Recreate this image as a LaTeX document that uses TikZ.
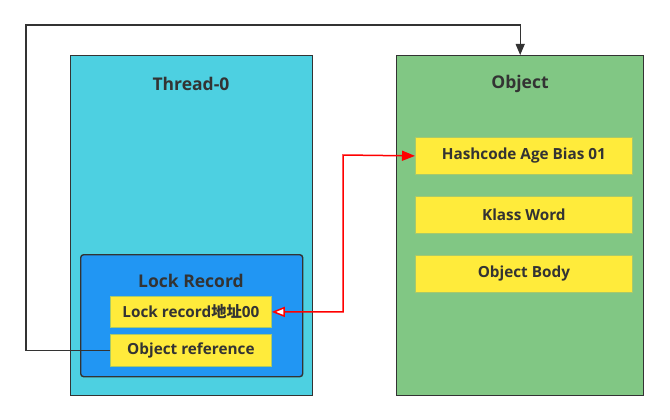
\documentclass[tikz,border=0pt]{standalone}
\usepackage{fontspec}
\setmainfont{Open Sans}
\newfontfamily\cjk{Noto Sans CJK SC}
\usetikzlibrary{arrows.meta}
\definecolor{edge}{HTML}{333333}
\definecolor{threadbg}{HTML}{4DD0E1}
\definecolor{objectbg}{HTML}{81C784}
\definecolor{lockbg}{HTML}{2196F3}
\definecolor{fieldbg}{HTML}{FFEB3B}
\definecolor{fieldrim}{HTML}{A8C96A}
\definecolor{pointer}{HTML}{FF0000}

\begin{document}
\begin{tikzpicture}[x=1pt,y=-1pt,text=edge,font=\bfseries\fontsize{15.3}{17}\selectfont,
    panel/.style={draw=edge,line width=1.4pt,anchor=north west,inner sep=0pt},
    field/.style={fill=fieldbg,draw=fieldrim,line width=0.8pt,inner sep=0pt,anchor=north west},
    title/.style={font=\bfseries\fontsize{17.5}{19}\selectfont},
    wire/.style={draw=edge,line width=1.2pt,-{Triangle[length=11pt,width=9pt]}},
    ptr/.style={draw=pointer,line width=1.5pt,
        {Triangle[length=13pt,width=10pt,fill=white]}-{Triangle[length=13pt,width=10pt]}}]

    \useasboundingbox (0,0) rectangle (670,420);

    \node[panel,fill=threadbg,minimum width=242pt,minimum height=340pt] (thread) at (70,55) {};
    \node[title] (threadname) at (191,83.5) {Thread-0};

    \node[panel,fill=objectbg,minimum width=247pt,minimum height=340pt] (object) at (396,55) {};
    \node[title] (objectname) at (520,83.5) {Object};

    \node[panel,fill=lockbg,rounded corners=3pt,minimum width=222pt,minimum height=122pt] (lockrec) at (80,254) {};
    \node[title] (lockname) at (191,280.5) {Lock Record};

    \node[field,minimum width=161pt,minimum height=31pt] (lockaddr) at (110,296) {Lock record{\cjk\bfseries 地址}00};
    \node[field,minimum width=161pt,minimum height=32pt] (objref) at (110,334) {Object reference};

    \node[field,minimum width=217pt,minimum height=37pt] (hashcode) at (415,137) {Hashcode Age Bias 01};
    \node[field,minimum width=217pt,minimum height=37pt] (klass) at (415,196) {Klass Word};
    \node[field,minimum width=217pt,minimum height=37pt] (body) at (415,255) {Object Body};

    \coordinate (loopcorner) at (26,25);
    \draw[wire] (objref.west) -| (loopcorner) -| (object.north);

    \coordinate (redbend) at (343,155);
    \draw[ptr] (lockaddr.east) -| (redbend) -- (hashcode.west);

\end{tikzpicture}
\end{document}
